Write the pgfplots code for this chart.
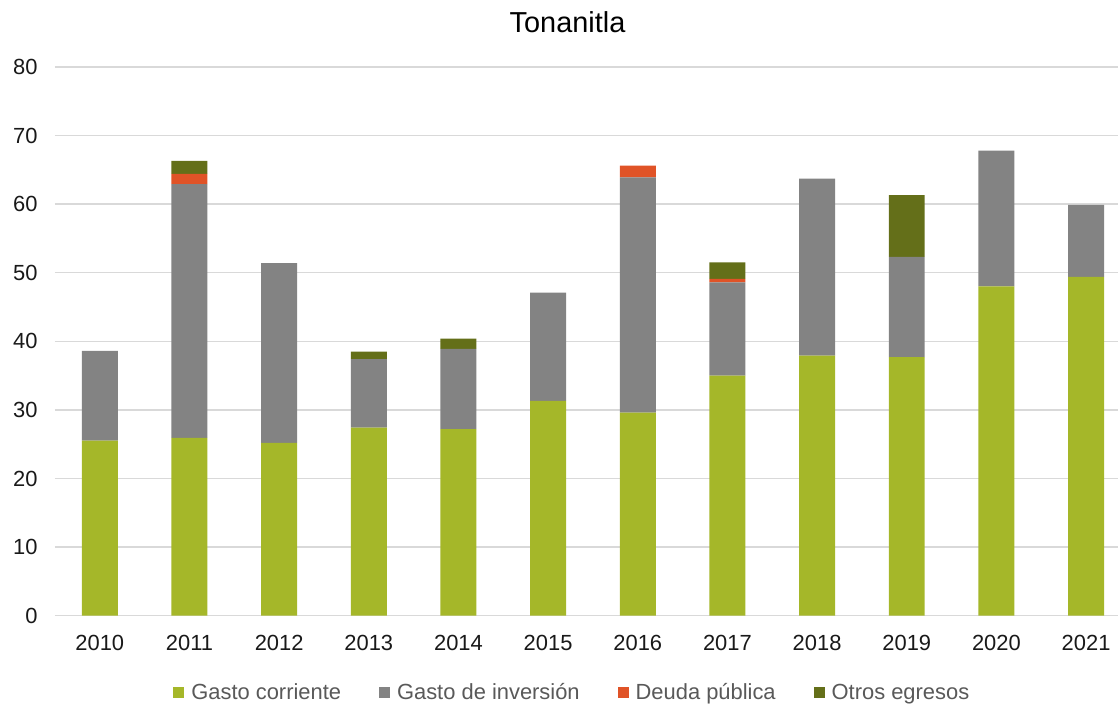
\documentclass[border=0pt]{standalone}
\usepackage{pgfplots}
\pgfplotsset{compat=1.18}
\usepackage{fontspec}
\setmainfont{Liberation Sans}
\definecolor{gc}{HTML}{A5B729}
\definecolor{gi}{HTML}{838383}
\definecolor{dp}{HTML}{E05327}
\definecolor{oe}{HTML}{646F19}
\definecolor{gridc}{HTML}{D9D9D9}
\definecolor{legtext}{HTML}{595959}
\begin{document}
\begin{tikzpicture}
\begin{axis}[
  scale only axis, width=1064bp, height=549bp,
  ybar stacked, bar width=36bp,
  xmin=-0.5, xmax=11.36, ymin=0, ymax=80,
  xtick={0,1,2,3,4,5,6,7,8,9,10,11},
  xticklabels={2010,2011,2012,2013,2014,2015,2016,2017,2018,2019,2020,2021},
  ytick={0,10,20,30,40,50,60,70,80},
  ymajorgrids, grid style={draw=gridc, line width=1.3bp},
  axis line style={draw=none}, tick style={draw=none},
  /pgf/number format/assume math mode=true,
  ticklabel style={font=\fontsize{22}{24}\selectfont, text=black!90},
  xticklabel style={yshift=-16bp},
  yticklabel style={xshift=-14bp},
  clip=false,
  legend columns=4,
  legend style={draw=none, at={(0.4865,-0.140)}, anchor=center,
    font=\fontsize{22}{24}\selectfont, text=legtext, inner sep=0pt,
    /tikz/every odd column/.append style={column sep=5bp},
    /tikz/every even column/.append style={column sep=36bp}},
  legend image code/.code={\fill[#1,draw=none] (0bp,-5.5bp) rectangle (11bp,5.5bp);},
]
\addplot[fill=gc,draw=none] coordinates {(0,25.5) (1,25.9) (2,25.2) (3,27.4) (4,27.2) (5,31.3) (6,29.6) (7,35.0) (8,37.9) (9,37.7) (10,48.0) (11,49.4)};
\addplot[fill=gi,draw=none] coordinates {(0,13.1) (1,37.0) (2,26.2) (3,10.0) (4,11.7) (5,15.8) (6,34.3) (7,13.6) (8,25.8) (9,14.6) (10,19.8) (11,10.5)};
\addplot[fill=dp,draw=none] coordinates {(0,0) (1,1.5) (2,0) (3,0) (4,0) (5,0) (6,1.7) (7,0.5) (8,0) (9,0) (10,0) (11,0)};
\addplot[fill=oe,draw=none] coordinates {(0,0) (1,1.9) (2,0) (3,1.1) (4,1.5) (5,0) (6,0) (7,2.4) (8,0) (9,9.0) (10,0) (11,0)};
\legend{Gasto corriente,Gasto de inversión,Deuda pública,Otros egresos}
\node[font=\fontsize{29}{32}\selectfont] at ([yshift=45bp]rel axis cs:0.482,1) {Tonanitla};
\path ([shift={(-55bp,-93bp)}]rel axis cs:0,0) rectangle ([shift={(0bp,67bp)}]rel axis cs:1,1);
\end{axis}
\end{tikzpicture}
\end{document}
